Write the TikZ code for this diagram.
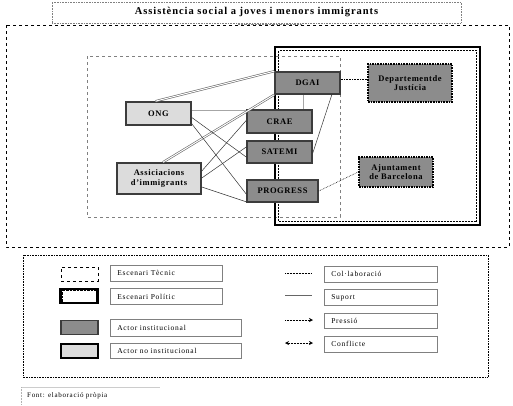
\documentclass[tikz,border=0pt]{standalone}
\usepackage{fontspec}
\setmainfont{Liberation Serif}
\newfontfamily\titlefont[LetterSpace=9]{Liberation Serif}
\newfontfamily\nodefont[LetterSpace=7]{Liberation Serif}
\newfontfamily\legfont[LetterSpace=10]{Liberation Serif}
\usetikzlibrary{arrows.meta}
\definecolor{darkfill}{HTML}{8C8C8C}
\definecolor{lightfill}{HTML}{DCDCDC}
\definecolor{edgegray}{HTML}{3C3C3C}
\tikzset{
  actor/.style={rectangle, draw=edgegray, line width=1.6pt, inner sep=1pt,
    font=\nodefont\bfseries\fontsize{8.5}{9.5}\selectfont, align=center},
  inst/.style={actor, fill=darkfill},
  noinst/.style={actor, fill=lightfill},
  instdot/.style={inst, draw=black, densely dotted, line width=1.8pt},
  techbox/.style={draw=gray, dashed, line width=0.6pt},
  polbox/.style={draw=black, line width=2.8pt},
  collab/.style={draw=black, densely dotted, line width=0.6pt},
  suport/.style={draw=gray!80!black, double=white, double distance=1pt, line width=0.6pt},
  thin/.style={draw=black!80, line width=0.5pt},
  graylink/.style={draw=gray!70, line width=1.4pt},
  legtext/.style={draw=gray, line width=0.5pt, anchor=west, inner sep=0pt,
    font=\legfont\fontsize{7.5}{9}\selectfont, text depth=0pt},
  legsample/.style={rectangle, minimum width=37pt, minimum height=14pt, inner sep=0pt}
}
\begin{document}
\begin{tikzpicture}[x=1pt,y=-1pt]
\useasboundingbox (0,0) rectangle (513,405);
% title
\node[draw=gray, densely dotted, line width=0.6pt, minimum width=409pt, minimum height=21pt, inner sep=0pt,
  font=\titlefont\bfseries\fontsize{10.5}{12}\selectfont] (title) at (256.5,12.5) {Assistència social a joves i menors immigrants};
\draw[gray, densely dotted] (238,24) -- (302,24);
% outer box
\draw[black, dashed, line width=0.6pt] (6,25) rectangle (509,247);
% technical scenario
\draw[techbox] (87,56) rectangle (340,217);
% political scenario
\draw[polbox] (275,47) rectangle (480,225);
\draw[black, densely dotted, line width=0.5pt] (278.5,50.5) rectangle (476.5,221.5);
% actors
\node[inst, minimum width=65pt, minimum height=22pt] (dgai) at (307.5,83) {DGAI};
\node[instdot, minimum width=84pt, minimum height=38pt] (just) at (410,83) {Departementde\\Justícia};
\node[inst, minimum width=65pt, minimum height=23pt] (crae) at (279.5,121.5) {CRAE};
\node[inst, minimum width=65pt, minimum height=22pt] (satemi) at (279.5,152) {SATEMI};
\node[inst, minimum width=71pt, minimum height=22pt] (progress) at (282.5,191) {PROGRESS};
\node[instdot, minimum width=74pt, minimum height=30pt] (ajunt) at (396,172) {Ajuntament\\de Barcelona};
\node[noinst, minimum width=65pt, minimum height=23pt] (ong) at (158.5,113.5) {ONG};
\node[noinst, minimum width=84pt, minimum height=31pt] (assoc) at (159,178.5) {Assiciacions\\d’immigrants};
% helper coordinates
\coordinate (ongE) at ([yshift=3pt]ong.east);
\coordinate (dgaiE) at ([yshift=4pt]dgai.east);
% links
\draw[suport] ([xshift=-3pt]ong.north) -- (dgai.north west);
\draw[suport] ([xshift=4pt]assoc.north) -- (dgai.south west);
\draw[graylink] (ongE) -- (crae.west |- ongE);
\draw[thin] ([yshift=-4pt]ong.east) -- ([yshift=-5pt]satemi.west);
\draw[thin] ([yshift=2pt]ong.south east) -- ([yshift=-3pt]progress.west);
\draw[thin] ([yshift=7.5pt]assoc.east) -- ([yshift=1pt]crae.west);
\draw[thin] ([yshift=0.5pt]assoc.east) -- ([yshift=5pt]satemi.west);
\draw[thin] ([yshift=-8.5pt]assoc.east) -- ([yshift=1pt]progress.south west);
\coordinate (dgaiS) at ([xshift=-4.5pt]dgai.south);
\draw[graylink, line width=1pt] (dgaiS) -- (dgaiS |- crae.north);
\draw[thin] ([xshift=-9pt]dgai.south east) -- ([yshift=-1pt]satemi.east);
\draw[collab] (dgaiE) -- (just.west |- dgaiE);
\draw[collab] (progress.east) -- (ajunt.west);
% legend
\draw[black, densely dotted, line width=0.6pt] (23,255) rectangle (488,377);
\node[legsample, draw=black, dashed, line width=0.5pt] (lt) at (79.5,274) {};
\node[legtext, minimum width=112pt, minimum height=16pt, text width=106pt, xshift=3pt] (ltt) at (107,273) {\hspace*{4pt}Escenari Tècnic};
\node[legsample, draw=black, line width=2.6pt] (lp) at (79,296) {};
\draw[black, densely dotted, line width=0.4pt] ([shift={(2.5pt,2.5pt)}]lp.south west) rectangle ([shift={(-2.5pt,-2.5pt)}]lp.north east);
\node[legtext, minimum width=112pt, minimum height=16pt, text width=106pt, xshift=3pt] (lpt) at (107,296.5) {\hspace*{4pt}Escenari Polític};
\node[legsample, fill=darkfill, draw=edgegray, line width=1.6pt] (li) at (79.5,327.5) {};
\node[legtext, minimum width=131pt, minimum height=17pt, text width=125pt, xshift=3pt] (lit) at (107,327.5) {\hspace*{4pt}Actor institucional};
\node[legsample, fill=lightfill, draw=black, line width=2pt] (ln) at (79,350.5) {};
\node[legtext, minimum width=131pt, minimum height=15pt, text width=125pt, xshift=3pt] (lnt) at (107,350.5) {\hspace*{4pt}Actor no institucional};
% line legend
\coordinate (c1a) at (285,273); \coordinate (c1b) at (312,273);
\draw[collab, line width=0.5pt] (c1a) -- (c1b);
\node[legtext, minimum width=113pt, minimum height=16pt, text width=107pt, xshift=3pt] (lc) at (321,274) {\hspace*{4pt}Col·laboració};
\coordinate (c2a) at (285,296); \coordinate (c2b) at (312,296);
\draw[suport] (c2a) -- (c2b);
\node[legtext, minimum width=113pt, minimum height=16pt, text width=107pt, xshift=3pt] (ls) at (321,297) {\hspace*{4pt}Suport};
\coordinate (c3a) at (285,320); \coordinate (c3b) at (313,320);
\draw[collab, line width=0.5pt, -{Stealth[length=4pt,width=4pt]}] (c3a) -- (c3b);
\node[legtext, minimum width=113pt, minimum height=15pt, text width=107pt, xshift=3pt] (lpr) at (321,320.5) {\hspace*{4pt}Pressió};
\coordinate (c4a) at (285,343); \coordinate (c4b) at (313,343);
\draw[collab, line width=0.5pt, {Stealth[length=4pt,width=4pt]}-{Stealth[length=4pt,width=4pt]}] (c4a) -- (c4b);
\node[legtext, minimum width=113pt, minimum height=16pt, text width=107pt, xshift=3pt] (lco) at (321,344) {\hspace*{4pt}Conflicte};
% footer
\draw[gray!40, line width=0.5pt] (21,387) -- (160,387);
\draw[gray!60, densely dotted, line width=0.5pt] (21,387) -- (21,405);
\node[anchor=west, inner sep=0pt, font=\legfont\fontsize{7}{8}\selectfont] (font) at (27,395.5) {Font: elaboració pròpia};
\end{tikzpicture}
\end{document}
